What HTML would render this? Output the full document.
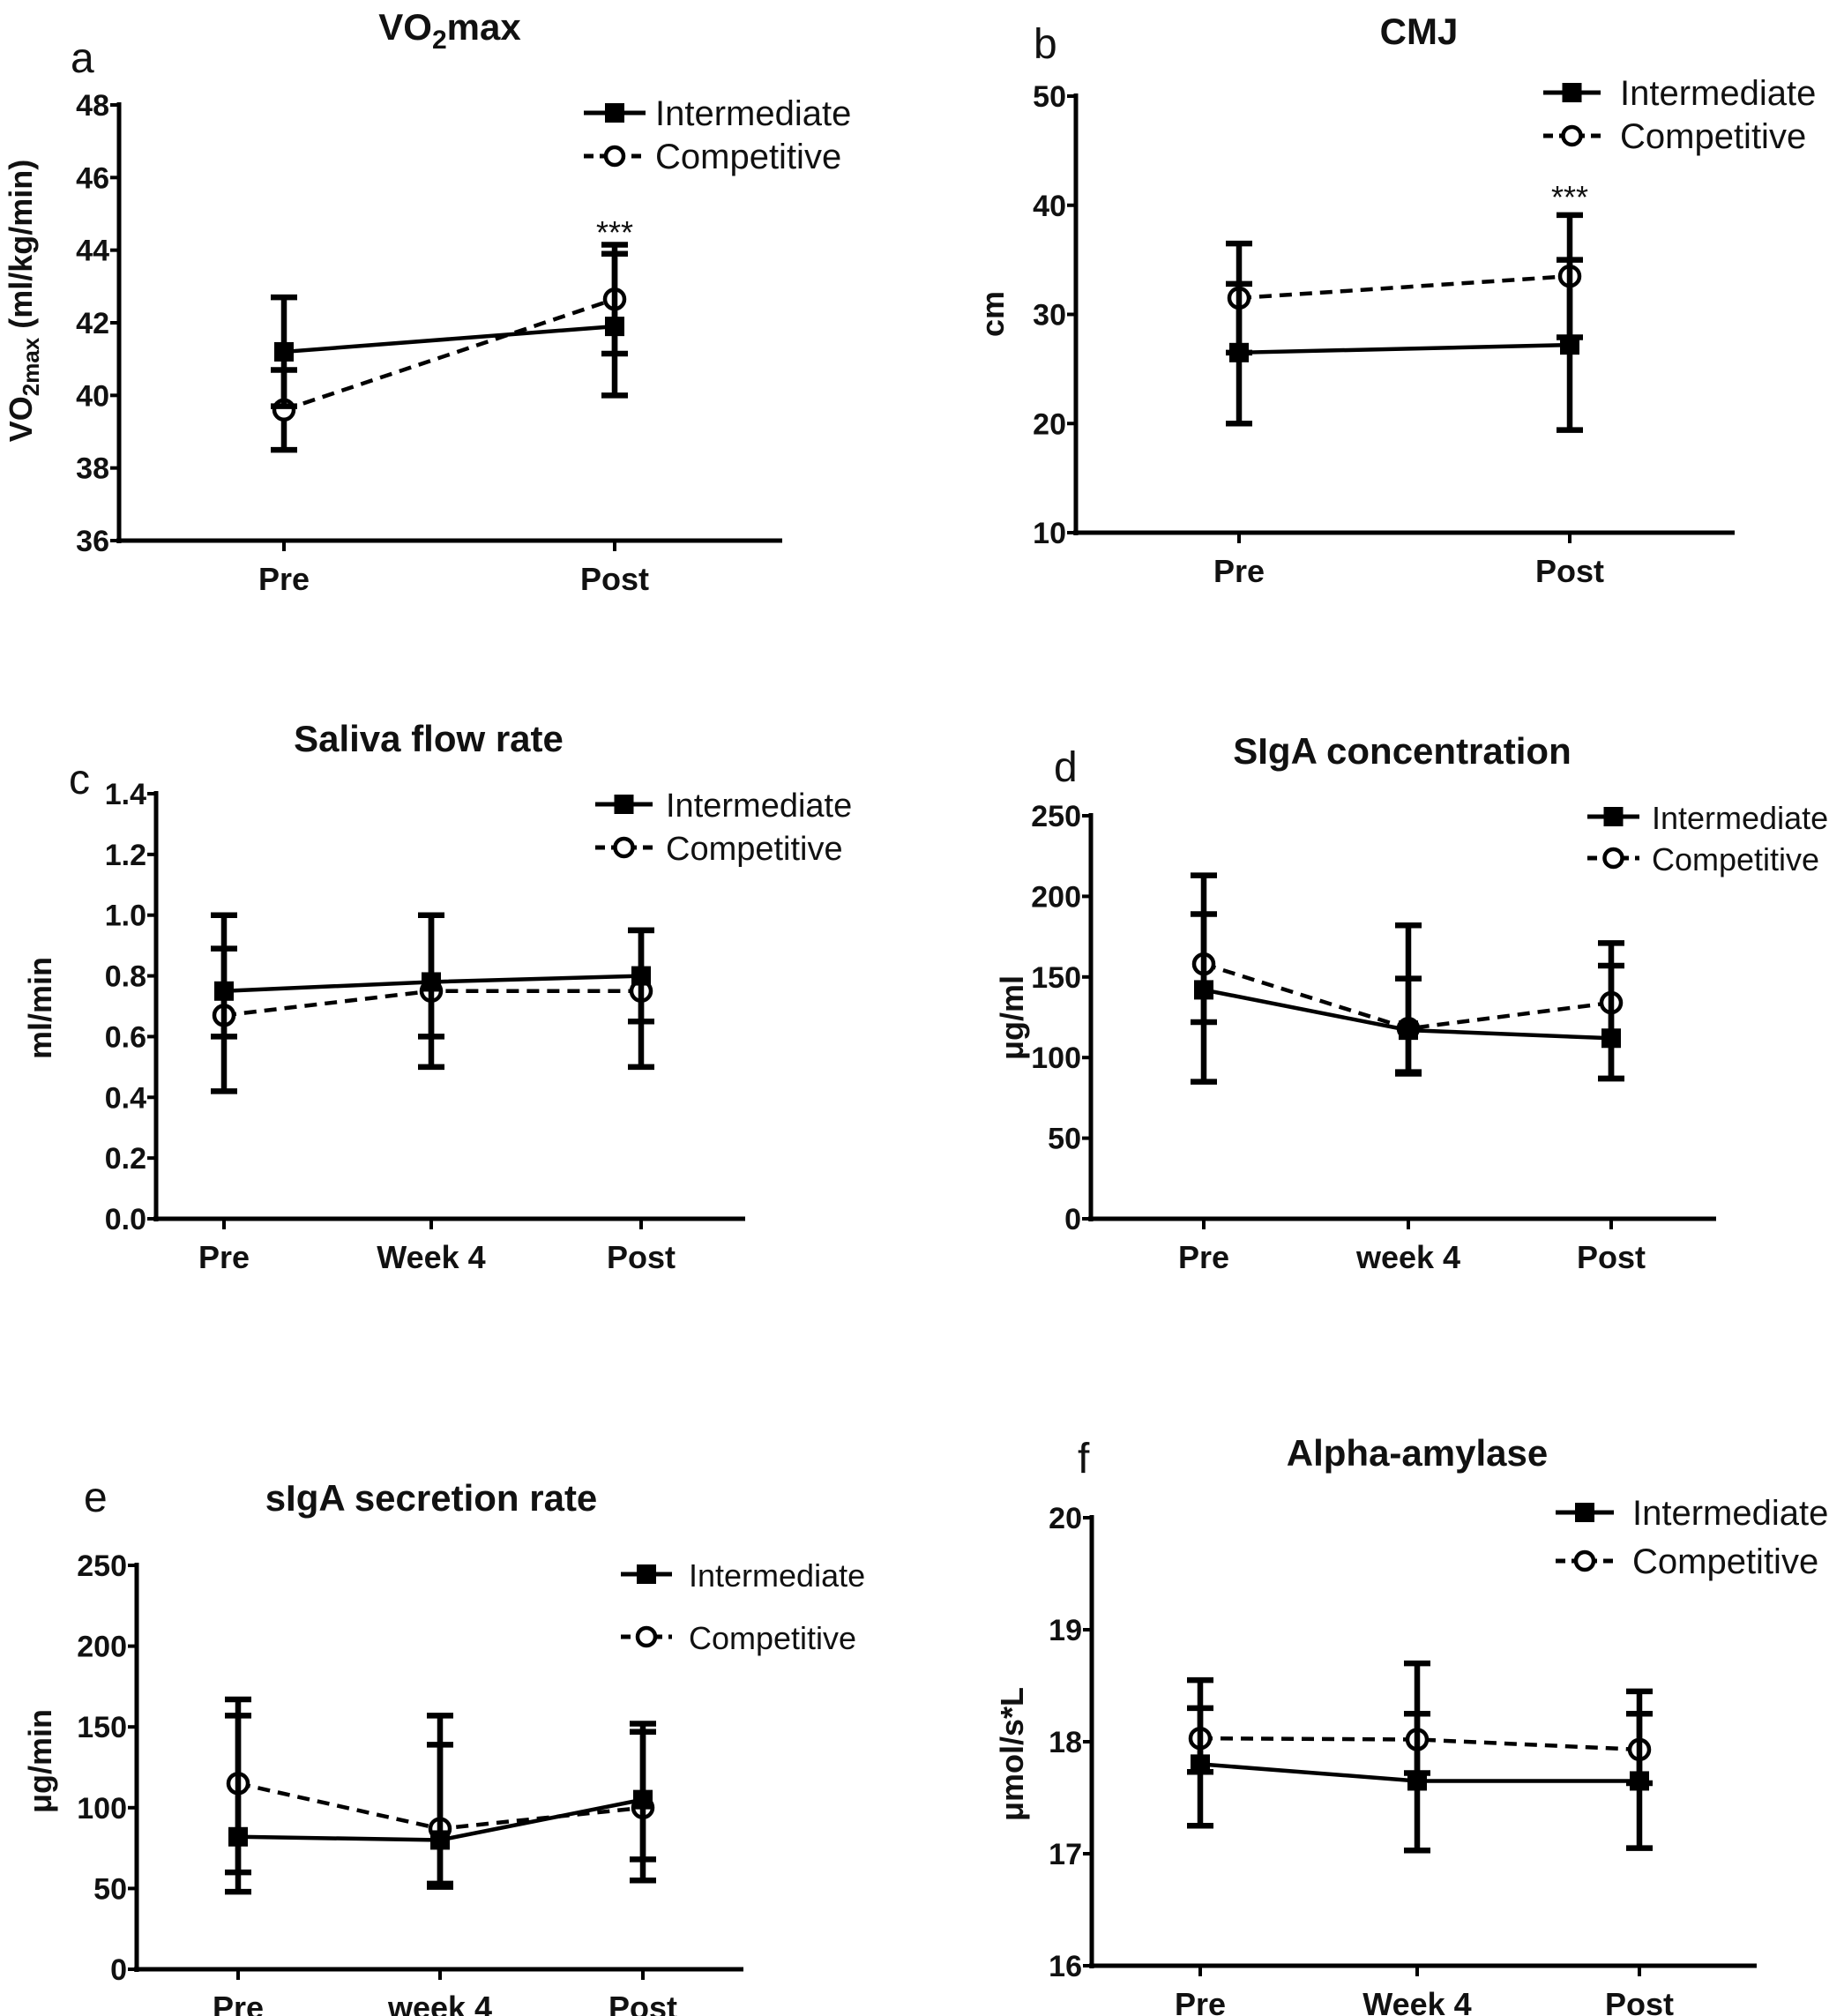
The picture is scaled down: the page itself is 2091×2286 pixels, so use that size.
<!DOCTYPE html>
<html><head><meta charset="utf-8">
<style>
html,body{margin:0;padding:0;background:#fff;}
svg{display:block;}
text{font-family:"Liberation Sans",Arial,sans-serif;fill:#111;}
.nar{font-family:"Liberation Sans Narrow","Liberation Sans",Arial,sans-serif;}
</style></head>
<body>
<svg id="fig" width="2091" height="2286" viewBox="0 0 2091 2286" xmlns="http://www.w3.org/2000/svg"></svg>
<script>
// ---- data ----
const catsA = ["Pre","Post"];
const intA = [41.2, 41.9];
const intAUp = [1.5, 2.0];
const intADn = [1.5, 1.9];
const compA = [39.6, 42.65];
const compAUp = [1.1, 1.5];
const compADn = [1.1, 1.5];
const ticksA = [36,38,40,42,44,46,48];

const catsB = ["Pre","Post"];
const intB = [26.5, 27.2];
const intBUp = [6.3, 7.8];
const intBDn = [6.5, 7.8];
const compB = [31.5, 33.5];
const compBUp = [5.0, 5.6];
const compBDn = [5.0, 5.6];
const ticksB = [10,20,30,40,50];

const catsC = ["Pre","Week 4","Post"];
const intC = [0.75, 0.78, 0.80];
const intCUp = [0.25, 0.22, 0.15];
const intCDn = [0.15, 0.18, 0.15];
const compC = [0.67, 0.75, 0.75];
const compCUp = [0.22, 0.25, 0.20];
const compCDn = [0.25, 0.25, 0.25];
const ticksC = [0,0.2,0.4,0.6,0.8,1.0,1.2,1.4];

const catsD = ["Pre","week 4","Post"];
const intD = [142, 117, 112];
const intDUp = [47, 32, 45];
const intDDn = [57, 27, 25];
const compD = [158, 118, 134];
const compDUp = [55, 64, 37];
const compDDn = [36, 27, 47];
const ticksD = [0,50,100,150,200,250];

const catsE = ["Pre","week 4","Post"];
const intE = [82, 80, 105];
const intEUp = [75, 59, 42];
const intEDn = [34, 27, 37];
const compE = [115, 87, 100];
const compEUp = [52, 70, 52];
const compEDn = [55, 36, 45];
const ticksE = [0,50,100,150,200,250];

const catsF = ["Pre","Week 4","Post"];
const intF = [17.8, 17.65, 17.65];
const intFUp = [0.5, 0.6, 0.6];
const intFDn = [0.55, 0.62, 0.6];
const compF = [18.03, 18.02, 17.93];
const compFUp = [0.52, 0.68, 0.52];
const compFDn = [0.3, 0.3, 0.3];
const ticksF = [16,17,18,19,20];

const NS = "http://www.w3.org/2000/svg";
const svg = document.getElementById("fig");
function mk(tag, attrs, parent, txt){
  const e = document.createElementNS(NS, tag);
  for (const k in attrs) e.setAttribute(k, attrs[k]);
  if (txt !== undefined) e.textContent = txt;
  (parent||svg).appendChild(e);
  return e;
}

function panel(p){
  const g = mk("g", {});
  
  
  const y0 = p.ticks[0], y1 = p.ticks[p.ticks.length-1];
  const ys = v => p.yBot + (v - y0) / (y1 - y0) * (p.yTop - p.yBot);
  const xs = i => p.xPos[i];
  const t = mk("text", {x:p.titleX, y:p.titleY, "font-size":42, "font-weight":"bold", "text-anchor":"middle"}, g);
  
  
  if (p.id === 'a') {
    t.appendChild(document.createTextNode("VO"));
    mk("tspan", {"font-size":30, dy:10}, t, "2");
    mk("tspan", {dy:-10}, t, "max");
  } else t.textContent = p.title;
  const lab = mk("text", {x:p.labX, y:p.labY, "font-size":48}, g, p.id);
  
  
  const ax = mk("g", {}, g);
  
  
  mk("line", {x1:p.ax, y1:p.yTop-3, x2:p.ax, y2:p.yBot+3, stroke:"#000","stroke-width":5}, ax);
  mk("line", {x1:p.ax-3, y1:p.yBot, x2:p.xEnd, y2:p.yBot, stroke:"#000","stroke-width":5}, ax);
  p.ticks.forEach(v=>{
    const y = ys(v);
    mk("line",{x1:p.ax-10,y1:y,x2:p.ax,y2:y,stroke:"#000","stroke-width":4},ax);
    const tl = mk("text",{x:p.ax-11,y:y+12,"font-size":34,"font-weight":"bold","text-anchor":"end","class":"nar"},ax,p.fmt(v));
    
    
  });
  p.cats.forEach((c,i)=>{
    const x = xs(i);
    mk("line",{x1:x,y1:p.yBot,x2:x,y2:p.yBot+12,stroke:"#000","stroke-width":4},ax);
    const xl = mk("text",{x:x,y:p.yBot+56,"font-size":36,"font-weight":"bold","text-anchor":"middle","class":"nar"},ax,c);
    
    
  });
  const yt = mk("text",{x:0,y:0,"font-size":36,"font-weight":"bold","text-anchor":"middle",transform:`translate(${p.ytX},${p.ytY}) rotate(-90)`},g);
  
  
  if (p.id==='a'){
    yt.appendChild(document.createTextNode("VO"));
    mk("tspan",{"font-size":26,dy:8},yt,"2max");
    mk("tspan",{dy:-8},yt," (ml/kg/min)");
  } else yt.textContent = p.ytitle;
  const series = [
    {name:'competitive', v:p.comp, up:p.compUp, dn:p.compDn, dash:"14,9", open:true},
    {name:'intermediate', v:p.int, up:p.intUp, dn:p.intDn, dash:null, open:false}
  ];
  series.forEach(s=>{
    const sg = mk("g",{},g);
    
    
    s.v.forEach((v,i)=>{
      const x = xs(i);
      const eb = mk("path",{d:`M${x},${ys(v+s.up[i])}L${x},${ys(v-s.dn[i])}M${x-15},${ys(v+s.up[i])}L${x+15},${ys(v+s.up[i])}M${x-15},${ys(v-s.dn[i])}L${x+15},${ys(v-s.dn[i])}`,stroke:"#000","stroke-width":6.5,fill:"none"},sg);
      
      
    });
    const pts = s.v.map((v,i)=>`${xs(i)},${ys(v)}`).join(" ");
    const ln = mk("polyline",{points:pts,fill:"none",stroke:"#000","stroke-width":4.5},sg);
    if (s.dash) ln.setAttribute("stroke-dasharray", s.dash);
    
    
    s.v.forEach((v,i)=>{
      let m;
      if (s.open) m = mk("circle",{cx:xs(i),cy:ys(v),r:11,fill:"#fff",stroke:"#000","stroke-width":4.5},sg);
      else m = mk("rect",{x:xs(i)-11,y:ys(v)-11,width:22,height:22,fill:"#000"},sg);
      
      
    });
  });
  if (p.star){
    const st = mk("text",{x:xs(1),y:p.starY,"font-size":36,"text-anchor":"middle"},g,"***");
    
    
  }
  const lg = mk("g",{},g);
  
  
  const [lx1,lx2,tx,ly1,ly2] = p.leg;
  const fs = p.legFs || 40;
  const cx = (lx1+lx2)/2;
  const e1 = mk("g",{},lg);
  
  
  mk("line",{x1:lx1,y1:ly1,x2:lx2,y2:ly1,stroke:"#000","stroke-width":5},e1);
  mk("rect",{x:cx-11,y:ly1-11,width:22,height:22,fill:"#000"},e1);
  mk("text",{x:tx,y:ly1+14,"font-size":fs},e1,"Intermediate");
  const e2 = mk("g",{},lg);
  
  
  mk("line",{x1:lx1,y1:ly2,x2:lx2,y2:ly2,stroke:"#000","stroke-width":5,"stroke-dasharray":"11,7"},e2);
  mk("circle",{cx:cx,cy:ly2,r:10,fill:"#fff",stroke:"#000","stroke-width":4.5},e2);
  mk("text",{x:tx,y:ly2+14,"font-size":fs},e2,"Competitive");
}

const f0 = v=>String(v), f1 = v=>v.toFixed(1);
panel({id:'a',title:'VO2max',titleX:510,titleY:45,labX:80,labY:82,ax:135,yTop:119,yBot:613,xEnd:887,xPos:[322,697],
  cats:catsA,ticks:ticksA,fmt:f0,int:intA,intUp:intAUp,intDn:intADn,comp:compA,compUp:compAUp,compDn:compADn,
  ytX:36,ytY:341,star:true,starY:276,leg:[662,732,743,128,177]});
panel({id:'b',title:'CMJ',titleX:1609,titleY:50,labX:1172,labY:66,ax:1220,yTop:109,yBot:604,xEnd:1967,xPos:[1405,1780],
  cats:catsB,ticks:ticksB,fmt:f0,int:intB,intUp:intBUp,intDn:intBDn,comp:compB,compUp:compBUp,compDn:compBDn,
  ytX:1138,ytY:356,ytitle:'cm',star:true,starY:236,leg:[1750,1815,1837,105,154]});
panel({id:'c',title:'Saliva flow rate',titleX:486,titleY:852,labX:78,labY:900,ax:177,yTop:900,yBot:1382,xEnd:845,xPos:[254,489,727],
  cats:catsC,ticks:ticksC,fmt:f1,int:intC,intUp:intCUp,intDn:intCDn,comp:compC,compUp:compCUp,compDn:compCDn,
  ytX:58,ytY:1143,ytitle:'ml/min',leg:[675,740,755,912,961],legFs:38});
panel({id:'d',title:'SIgA concentration',titleX:1590,titleY:866,labX:1195,labY:886,ax:1237,yTop:925,yBot:1382,xEnd:1946,xPos:[1365,1597,1827],
  cats:catsD,ticks:ticksD,fmt:f0,int:intD,intUp:intDUp,intDn:intDDn,comp:compD,compUp:compDUp,compDn:compDDn,
  ytX:1160,ytY:1154,ytitle:'μg/ml',leg:[1800,1859,1873,926,973],legFs:36});
panel({id:'e',title:'sIgA secretion rate',titleX:489,titleY:1713,labX:95,labY:1714,ax:155,yTop:1775,yBot:2233,xEnd:843,xPos:[270,499,729],
  cats:catsE,ticks:ticksE,fmt:f0,int:intE,intUp:intEUp,intDn:intEDn,comp:compE,compUp:compEUp,compDn:compEDn,
  ytX:58,ytY:1997,ytitle:'μg/min',leg:[704,762,781,1785,1856],legFs:36});
panel({id:'f',title:'Alpha-amylase',titleX:1607,titleY:1662,labX:1222,labY:1670,ax:1238,yTop:1721,yBot:2229,xEnd:1992,xPos:[1361,1607,1859],
  cats:catsF,ticks:ticksF,fmt:f0,int:intF,intUp:intFUp,intDn:intFDn,comp:compF,compUp:compFUp,compDn:compFDn,
  ytX:1160,ytY:1989,ytitle:'μmol/s*L',leg:[1764,1830,1851,1715,1770]});
</script>
</body></html>
